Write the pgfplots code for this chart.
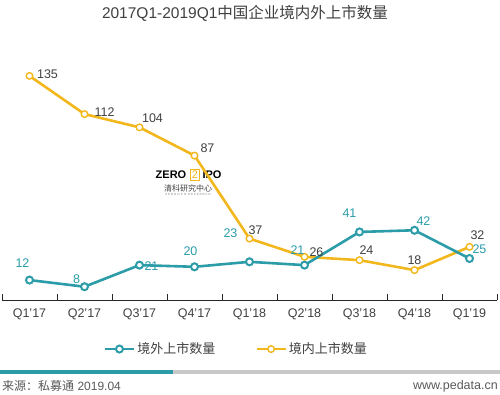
\documentclass[border=0pt]{standalone}
\usepackage{fontspec}
\setmainfont{Liberation Sans}
\newfontfamily\cjk{Noto Sans CJK SC}
\usepackage{pgfplots}
\usepackage{pgfplotstable}
\pgfplotsset{compat=1.18}
\definecolor{teal1}{HTML}{2B9CA8}
\definecolor{gold1}{HTML}{F2B71C}
\definecolor{txt}{HTML}{404040}
\definecolor{barg}{HTML}{C8C8C8}
\definecolor{srcg}{HTML}{595959}

\pgfplotstableread{
x y dx dy
0 12 -7 17
1 8 -8 8
2 21 12 -1
3 20 -4 16
4 23 -19 29
5 21 -7 15
6 41 -10 19
7 42 9 9
8 25 10 9
}\outside

\pgfplotstableread{
x y dx dy
0 135 18 2
1 112 20 2
2 104 13 9
3 87 13 7
4 37 6 8
5 26 12 5
6 24 7 10
7 18 0 10
8 32 8 12
}\inside

\begin{document}
\begin{tikzpicture}
\useasboundingbox (0pt,0pt) rectangle (500pt,395pt);
% title
\node[text=txt, font=\fontsize{15.5}{18}\selectfont] at (245pt,382pt) {2017Q1-2019Q1{\cjk 中国企业境内外上市数量}};
% watermark
\node[font=\bfseries\fontsize{11}{12}\selectfont, text=black] at (171pt,220pt) {ZERO};
\node[draw=gold1, text=gold1, line width=1pt, inner sep=1.2pt, font=\fontsize{11}{12}\selectfont] at (195pt,220pt) {2};
\node[font=\bfseries\fontsize{11}{12}\selectfont, text=black] at (212pt,220pt) {IPO};
\node[font=\cjk\fontsize{8}{9}\selectfont, text=txt] at (188pt,207pt) {清科研究中心};
\node[font=\fontsize{3}{3}\selectfont, text=gray] at (188pt,201pt) {Z E R O 2 I P O \ R E S E A R C H};
\begin{axis}[
  at={(2pt,95pt)}, anchor=south west,
  scale only axis, width=495pt, height=249pt,
  xmin=-0.5, xmax=8.5, ymin=0, ymax=150,
  clip=false,
  axis x line*=bottom, axis y line=none,
  axis line style={-, draw=black!85, line width=0.9pt},
  xtick={0,...,8},
  xticklabels={Q1’17,Q2’17,Q3’17,Q4’17,Q1’18,Q2’18,Q3’18,Q4’18,Q1’19},
  major tick length=0pt,
  minor xtick={-0.5,0.5,...,8.5},
  minor tick length=6pt,
  xtick align=inside,
  tick style={draw=black!85, line width=0.9pt},
  xticklabel style={anchor=center, yshift=-14pt, text=txt, font=\fontsize{12.5}{14}\selectfont},
  /pgf/number format/assume math mode=true,
  reverse legend,
  legend columns=2,
  legend style={at={(axis description cs:0.205,-0.197)}, anchor=west, draw=none, fill=none,
     inner sep=0pt, text=txt, font=\cjk\fontsize{13}{15}\selectfont,
     /tikz/every even column/.append style={column sep=38pt}},
  legend image code/.code={\draw[mark repeat=2,mark phase=2] plot coordinates {(0pt,0pt)(14.5pt,0pt)(29pt,0pt)};},
]
\addplot[gold1, line width=2.6pt, mark=*, mark size=3.3pt,
  mark options={fill=white, line width=1.4pt},
  nodes near coords, point meta=explicit,
  visualization depends on={\thisrow{dx} \as \dx},
  visualization depends on={\thisrow{dy} \as \dy},
  nodes near coords style={anchor=center, inner sep=0pt, xshift=\dx pt, yshift=\dy pt, text=txt, font=\fontsize{12.5}{14}\selectfont}]
  table[x=x, y=y, meta=y] {\inside};
\addlegendentry{境内上市数量}
\addplot[teal1, line width=2.6pt, mark=*, mark size=3.5pt,
  mark options={fill=white, line width=2pt},
  nodes near coords, point meta=explicit,
  visualization depends on={\thisrow{dx} \as \dx},
  visualization depends on={\thisrow{dy} \as \dy},
  nodes near coords style={anchor=center, inner sep=0pt, xshift=\dx pt, yshift=\dy pt, text=teal1, font=\fontsize{12.5}{14}\selectfont}]
  table[x=x, y=y, meta=y] {\outside};
\addlegendentry{境外上市数量}
\end{axis}
% bottom bar
\fill[teal1] (0pt,21pt) rectangle (173pt,24.5pt);
\fill[barg] (173pt,21pt) rectangle (500pt,24.5pt);
\node[anchor=west, text=srcg, font=\fontsize{12}{14}\selectfont, inner sep=0pt] at (2pt,9pt) {{\cjk 来源：私募通} 2019.04};
\node[anchor=east, text=srcg, font=\fontsize{12.5}{14}\selectfont, inner sep=0pt] at (498pt,9pt) {www.pedata.cn};
\end{tikzpicture}
\end{document}
